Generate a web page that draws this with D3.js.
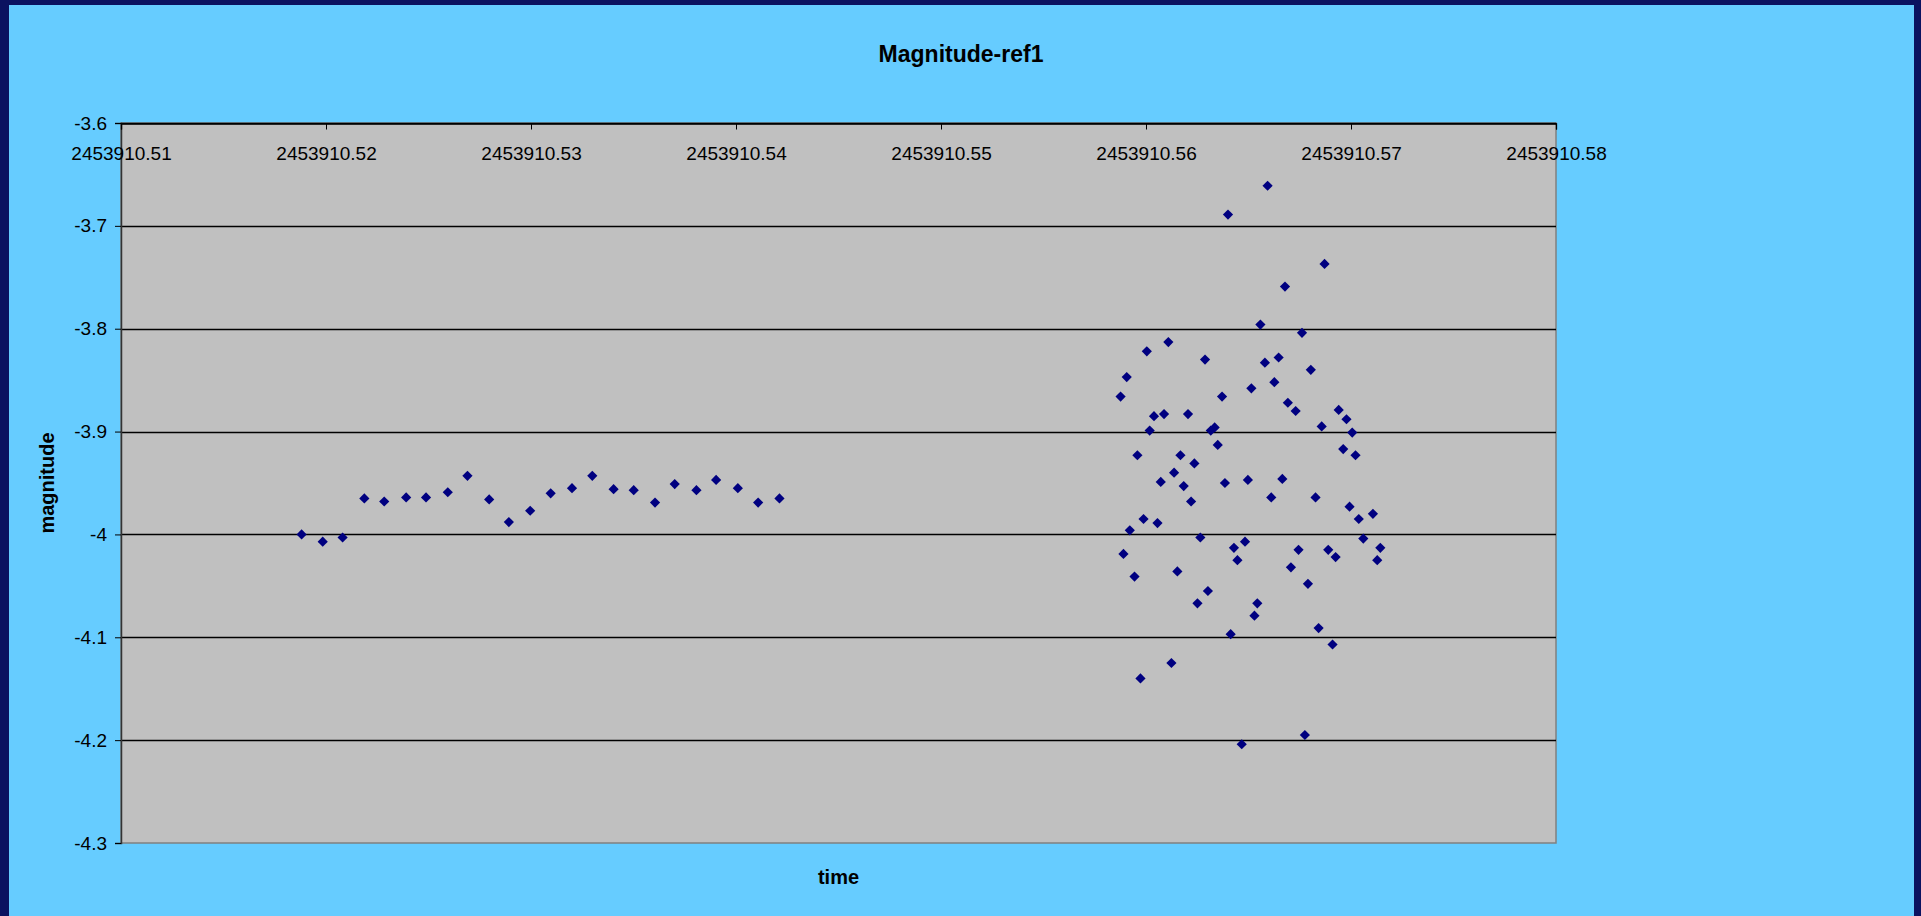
<!DOCTYPE html>
<html>
<head>
<meta charset="utf-8">
<script src="https://cdn.jsdelivr.net/npm/d3@7"></script>
<style>
body { margin: 0; background: #0b1260; }
text { font-family: Arial, "Liberation Sans", sans-serif; fill: #000; }
</style>
</head>
<body>
<div id="chart"></div>
<script>
var width = 1921, height = 916;

// julian date fractions (2453910 + value) and magnitudes
var jdFrac = [
  0.51881, 0.51984, 0.52081, 0.52187, 0.52284, 0.52391, 0.52488, 0.52594,
  0.52690, 0.52796, 0.52892, 0.52996, 0.53096, 0.53200, 0.53299, 0.53403,
  0.53501, 0.53605, 0.53701, 0.53807, 0.53903, 0.54009, 0.54108, 0.54212,
  0.55876, 0.55890, 0.55906, 0.55921, 0.55944, 0.55958, 0.55973, 0.55988,
  0.56004, 0.56018, 0.56039, 0.56056, 0.56072, 0.56088, 0.56109, 0.56124,
  0.56137, 0.56153, 0.56168, 0.56184, 0.56205, 0.56220, 0.56236, 0.56251,
  0.56265, 0.56288, 0.56302, 0.56316, 0.56335, 0.56350, 0.56371, 0.56385,
  0.56400, 0.56413, 0.56429, 0.56446, 0.56467, 0.56483, 0.56497, 0.56514,
  0.56529, 0.56543, 0.56558, 0.56580, 0.56593, 0.56611, 0.56626, 0.56647,
  0.56665, 0.56678, 0.56692, 0.56707, 0.56730, 0.56744, 0.56761, 0.56775,
  0.56790, 0.56804, 0.56827, 0.56842, 0.56857, 0.56871, 0.56889, 0.56910,
  0.56925, 0.56940, 0.56962, 0.56978, 0.56993, 0.57006, 0.57022, 0.57038,
  0.57060, 0.57107, 0.57128, 0.57143
];
var mag = [
  -4.000, -4.007, -4.003, -3.965, -3.968, -3.964, -3.964, -3.959,
  -3.943, -3.966, -3.988, -3.977, -3.960, -3.955, -3.943, -3.956,
  -3.957, -3.969, -3.951, -3.957, -3.947, -3.955, -3.969, -3.965,
  -3.866, -4.019, -3.847, -3.996, -4.041, -3.923, -4.140, -3.985,
  -3.822, -3.899, -3.885, -3.989, -3.949, -3.883, -3.813, -4.125,
  -3.940, -4.036, -3.923, -3.953, -3.883, -3.968, -3.931, -4.067,
  -4.003, -3.830, -4.055, -3.899, -3.896, -3.913, -3.866, -3.950,
  -3.689, -4.097, -4.013, -4.025, -4.204, -4.007, -3.947, -3.858,
  -4.079, -4.067, -3.796, -3.833, -3.661, -3.964, -3.852, -3.828,
  -3.946, -3.759, -3.872, -4.032, -3.880, -4.015, -3.804, -4.195,
  -4.048, -3.840, -3.964, -4.091, -3.895, -3.737, -4.015, -4.107,
  -4.022, -3.879, -3.917, -3.888, -3.973, -3.901, -3.923, -3.985,
  -4.004, -3.980, -4.025, -4.013
];

var xTicks = [2453910.51, 2453910.52, 2453910.53, 2453910.54, 2453910.55, 2453910.56, 2453910.57, 2453910.58];
var yTicks = [-3.6, -3.7, -3.8, -3.9, -4.0, -4.1, -4.2, -4.3];

var plot = {left: 121, right: 1556, top: 123, bottom: 843};

var x = d3.scaleLinear()
    .domain([2453910.51, 2453910.58])
    .range([plot.left, plot.right]);

var y = d3.scaleLinear()
    .domain([-3.6, -4.3])
    .range([plot.top, plot.bottom]);

var svg = d3.select("#chart").append("svg")
    .attr("width", width)
    .attr("height", height);

// navy frame and light blue chart area
svg.append("rect")
    .attr("width", width).attr("height", height)
    .attr("fill", "#0b1260");
svg.append("rect")
    .attr("x", 9).attr("y", 5)
    .attr("width", 1914 - 9).attr("height", height - 5)
    .attr("fill", "#66ccff");

// plot area
svg.append("rect")
    .attr("x", plot.left).attr("y", plot.top)
    .attr("width", plot.right - plot.left)
    .attr("height", plot.bottom - plot.top)
    .attr("fill", "#c0c0c0")
    .attr("stroke", "#808080")
    .attr("stroke-width", 1.5);

// horizontal gridlines
svg.append("g")
    .selectAll("line")
    .data(yTicks.slice(0, -1))
    .enter().append("line")
    .attr("x1", plot.left).attr("x2", plot.right)
    .attr("y1", function(d) { return Math.round(y(d)) + 0.5; })
    .attr("y2", function(d) { return Math.round(y(d)) + 0.5; })
    .attr("stroke", "#000")
    .attr("stroke-width", 1.3);

// y axis
var yAxis = svg.append("g")
    .attr("transform", "translate(" + plot.left + ",0)")
    .call(d3.axisLeft(y)
        .tickValues(yTicks)
        .tickSize(6)
        .tickPadding(8)
        .tickFormat(function(d) { return String(d); }));
yAxis.select(".domain").attr("stroke", "#333").attr("stroke-width", 1.5);
yAxis.selectAll("text")
    .attr("font-size", 19)
    .attr("font-family", "Arial, 'Liberation Sans', sans-serif");

// x axis sits at the top (-3.6), ticks pointing into the plot
var xAxis = svg.append("g")
    .attr("transform", "translate(0," + (plot.top + 0.5) + ")")
    .call(d3.axisBottom(x)
        .tickValues(xTicks)
        .tickSize(6)
        .tickPadding(17)
        .tickFormat(d3.format(".2f")));
xAxis.select(".domain").attr("stroke", "#000").attr("stroke-width", 1.3);
xAxis.selectAll("text")
    .attr("font-size", 19)
    .attr("font-family", "Arial, 'Liberation Sans', sans-serif");

// points
var points = jdFrac.map(function(f, i) { return {t: 2453910 + f, m: mag[i]}; });
var diamond = d3.symbol().type(d3.symbolSquare).size(52);

svg.append("g")
    .selectAll("path")
    .data(points)
    .enter().append("path")
    .attr("d", diamond)
    .attr("transform", function(d) { return "translate(" + x(d.t) + "," + y(d.m) + ") rotate(45)"; })
    .attr("fill", "#000080");

// titles
svg.append("text")
    .attr("x", 961).attr("y", 54)
    .attr("text-anchor", "middle")
    .attr("dominant-baseline", "central")
    .attr("font-size", 23)
    .attr("font-weight", "bold")
    .text("Magnitude-ref1");

svg.append("text")
    .attr("x", (plot.left + plot.right) / 2).attr("y", 877)
    .attr("text-anchor", "middle")
    .attr("dominant-baseline", "central")
    .attr("font-size", 20)
    .attr("font-weight", "bold")
    .text("time");

svg.append("text")
    .attr("transform", "translate(47," + (plot.top + plot.bottom) / 2 + ") rotate(-90)")
    .attr("text-anchor", "middle")
    .attr("dominant-baseline", "central")
    .attr("font-size", 20)
    .attr("font-weight", "bold")
    .text("magnitude");
</script>
</body>
</html>
